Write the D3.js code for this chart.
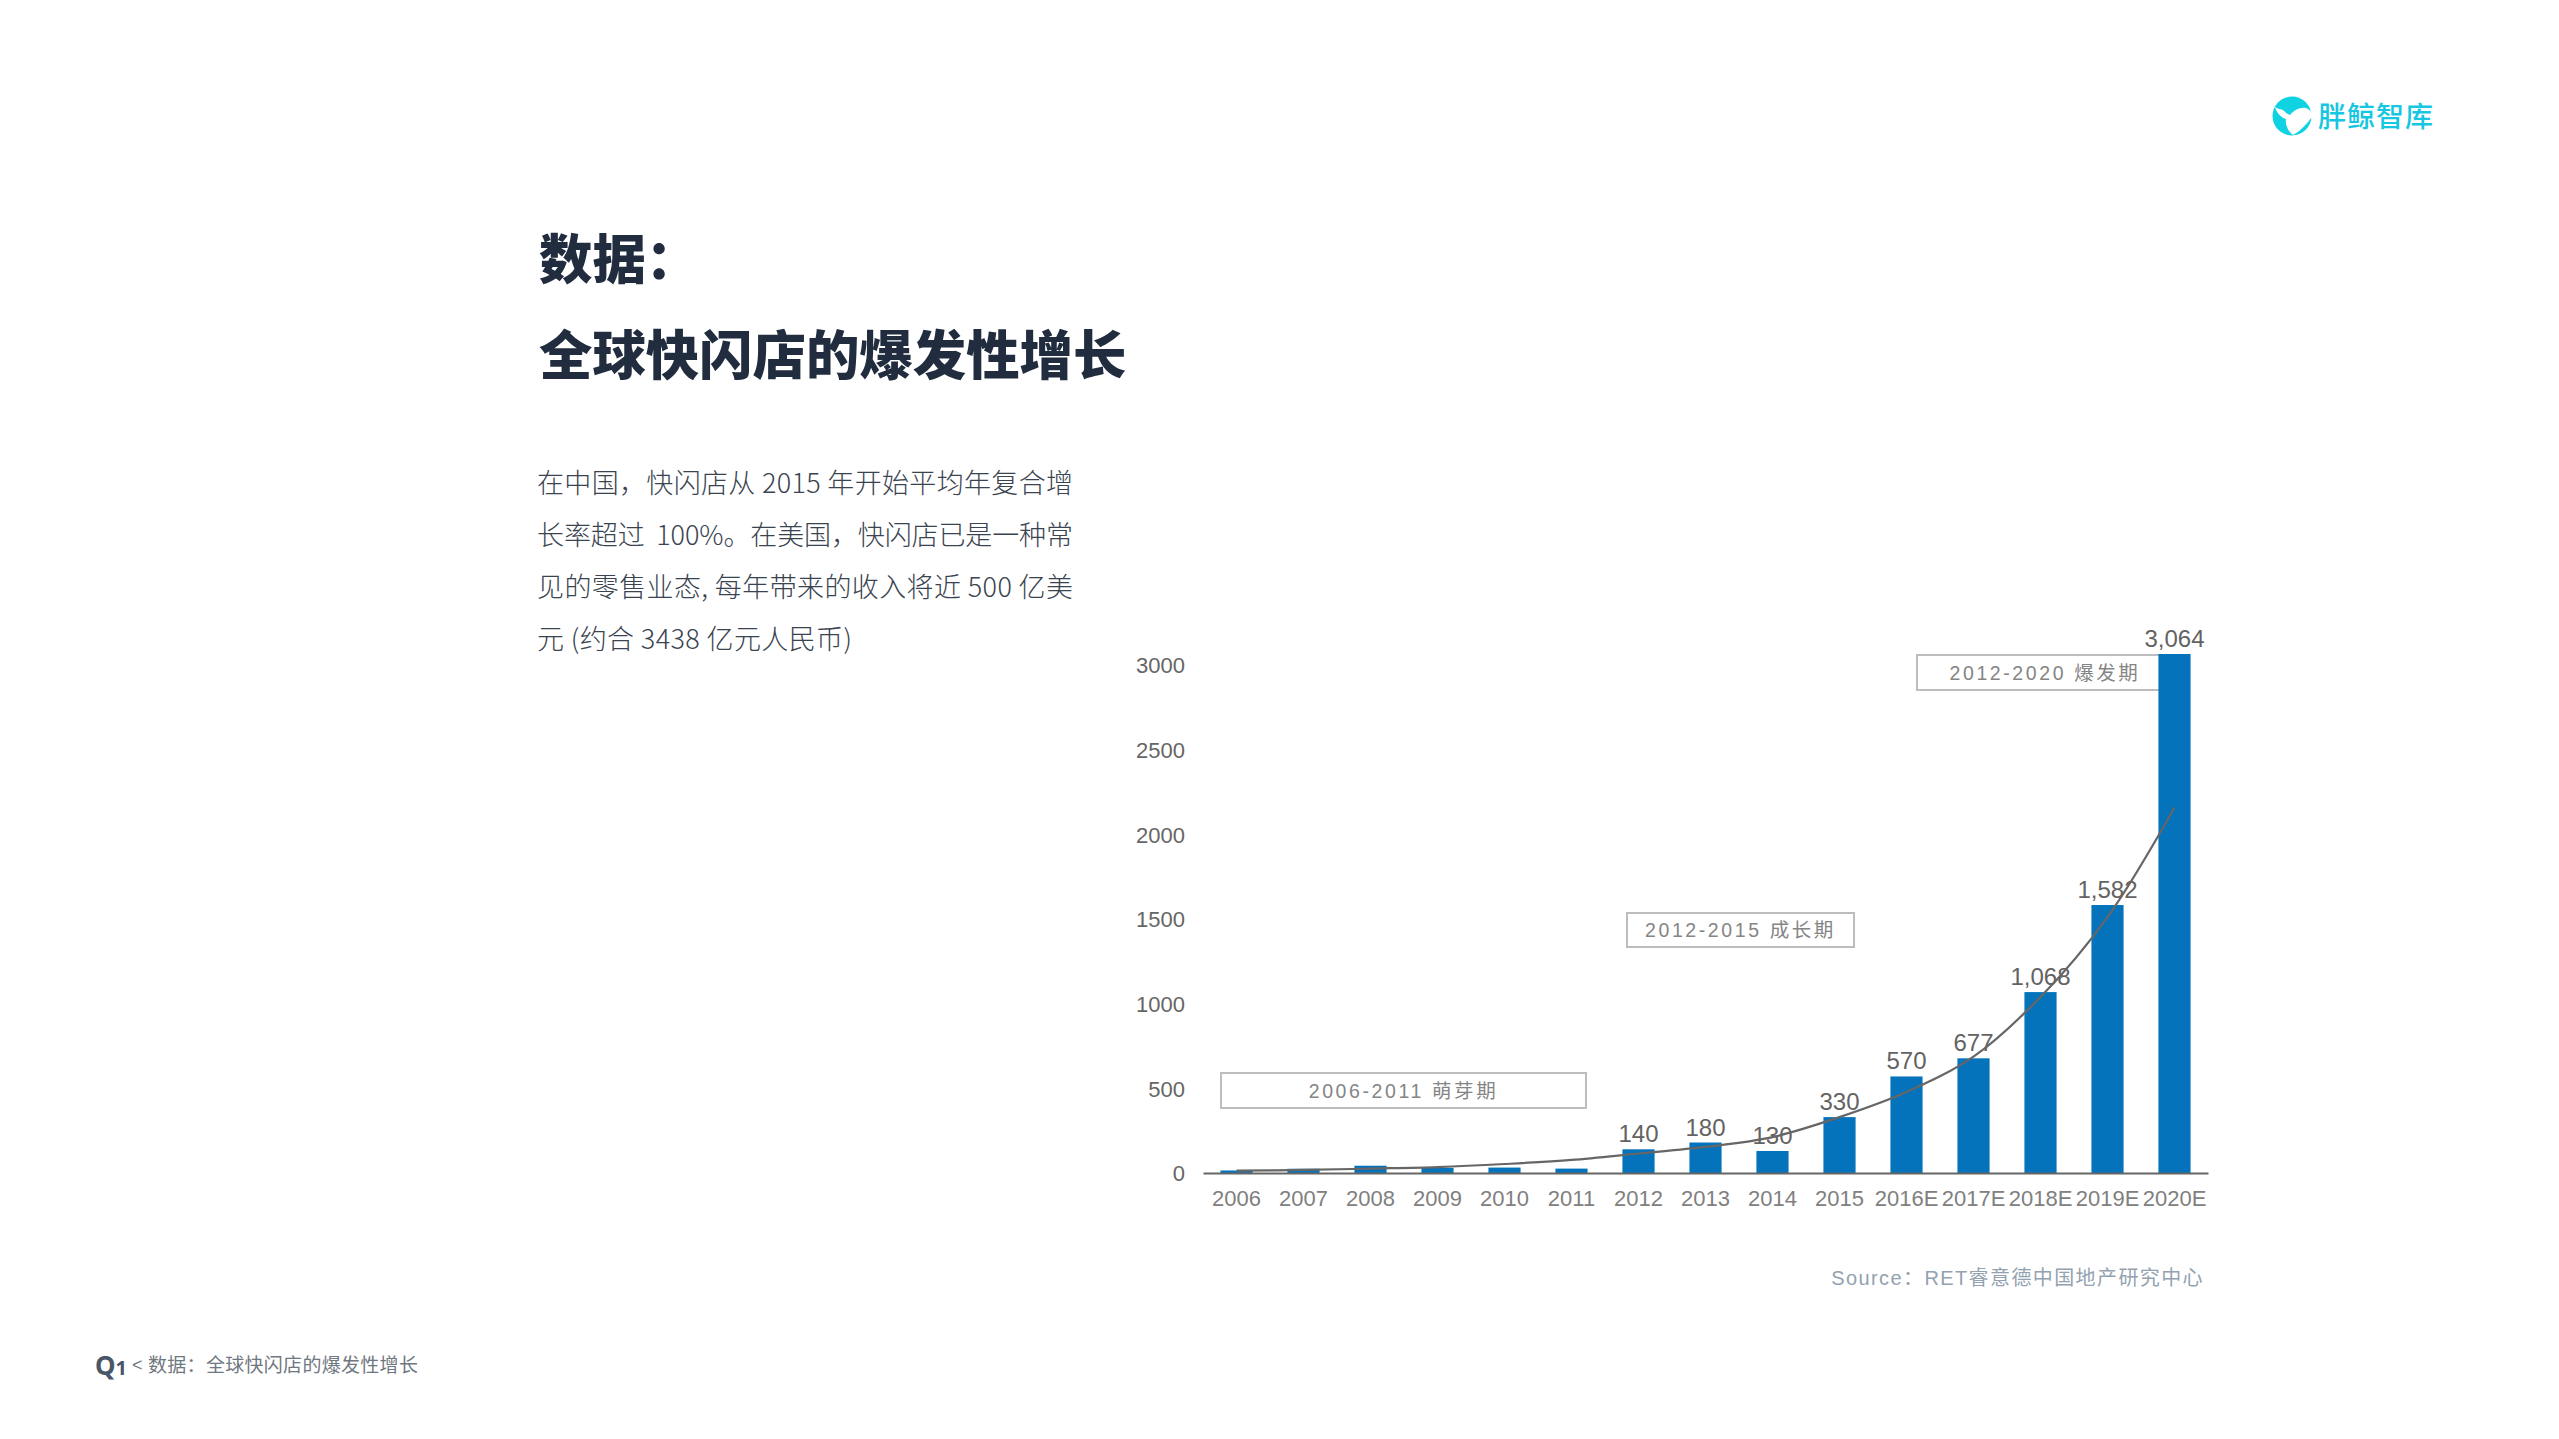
<!DOCTYPE html>
<html lang="zh"><head><meta charset="utf-8">
<script src="https://cdnjs.cloudflare.com/ajax/libs/d3/7.8.5/d3.min.js"></script>
<style>
html,body{margin:0;padding:0;background:#fff;overflow:hidden}
svg{display:block}
text{font-family:"Liberation Sans","Noto Sans CJK SC",sans-serif}
.cjk{font-family:"Noto Sans CJK SC","Noto Sans",sans-serif}
</style></head><body>
<svg id="c" width="2559" height="1439"></svg>
<script>
// ---- data ----
const years = ["2006","2007","2008","2009","2010","2011","2012","2013","2014","2015","2016E","2017E","2018E","2019E","2020E"];
const stores = [15,25,43,30,32,26,140,180,130,330,570,677,1068,1582,3064];
const shownLabels = ["","","","","","","140","180","130","330","570","677","1,068","1,582","3,064"];
const trend = [14,18,26,35,53,77,115,154,212,330,478,687,1039,1511,2158];
const yTicks = [0,500,1000,1500,2000,2500,3000];
const phaseNames = ["2006-2011 萌芽期","2012-2015 成长期","2012-2020 爆发期"];
const titleLines = ["数据：","全球快闪店的爆发性增长"];
const bodyLines = ["在中国，快闪店从 2015 年开始平均年复合增","长率超过  100%。在美国，快闪店已是一种常","见的零售业态, 每年带来的收入将近 500 亿美","元 (约合 3438 亿元人民币)"];
const sourceText = "Source：RET睿意德中国地产研究中心";
const footerText = "数据：全球快闪店的爆发性增长";
const logoText = "胖鲸智库";

// ---- layout ----
const svg = d3.select("#c");
const x = d3.scaleBand().domain(years).range([1203,2208]).paddingInner(0.52).paddingOuter(0.26);
const y = d3.scaleLinear().domain([0,3064]).range([1173,654]);
const phaseBoxes = [[1221,1073,365,35],[1627,913,227,34],[1917,655,254,35]];
const bodyWidths = [536,536,536,315];

// title and body
svg.append("g").selectAll("text").data(titleLines).join("text").attr("class","cjk")
  .attr("x",539).attr("y",(d,i)=>278.5+i*96.5).attr("font-size",53.4).attr("font-weight",900).attr("fill","#212d3f")
  .style("font-family",'"Noto Sans CJK SC"').text(d=>d);
svg.append("g").selectAll("text").data(bodyLines).join("text").attr("class","cjk")
  .attr("x",537).attr("y",(d,i)=>492.5+i*52).attr("font-size",27).attr("font-weight",300).attr("fill","#3a4350")
  .attr("textLength",(d,i)=>bodyWidths[i]).attr("lengthAdjust","spacing")
  .style("white-space","pre").style("font-family",'"Noto Sans CJK SC"').text(d=>d);

// phase boxes
const pg = svg.append("g").selectAll("g").data(phaseNames).join("g");
pg.append("rect").attr("x",(d,i)=>phaseBoxes[i][0]).attr("y",(d,i)=>phaseBoxes[i][1])
  .attr("width",(d,i)=>phaseBoxes[i][2]).attr("height",(d,i)=>phaseBoxes[i][3])
  .attr("fill","#fff").attr("stroke","#bdbdbd").attr("stroke-width",2);
pg.append("text").attr("x",(d,i)=>phaseBoxes[i][0]+phaseBoxes[i][2]/2 + (i==2?1:0))
  .attr("y",(d,i)=>phaseBoxes[i][1]+phaseBoxes[i][3]/2+7).attr("text-anchor","middle")
  .attr("font-size",19.5).attr("letter-spacing",2.6).attr("fill","#858585").text(d=>d);

// bars
svg.append("g").selectAll("rect").data(stores).join("rect")
  .attr("x",(d,i)=>x(years[i])).attr("width",x.bandwidth())
  .attr("y",d=>y(d)).attr("height",d=>y(0)-y(d)).attr("fill","#0473bb");

// value labels
svg.append("g").selectAll("text").data(stores).join("text")
  .attr("x",(d,i)=>x(years[i])+x.bandwidth()/2).attr("y",d=>y(d)-7)
  .attr("text-anchor","middle").attr("font-size",24).attr("fill","#636363")
  .text((d,i)=>shownLabels[i]);

// axes
const xAxis = svg.append("g").attr("transform","translate(0,1173)")
  .call(d3.axisBottom(x).tickSize(0).tickPadding(17));
xAxis.select(".domain").attr("stroke","#666").attr("stroke-width",2);
xAxis.selectAll("text").attr("font-size",22).attr("fill","#808080").style("font-family",'"Liberation Sans"');
const yAxis = svg.append("g").attr("transform","translate(1203,0.8)")
  .call(d3.axisLeft(y).tickValues(yTicks).tickFormat(d3.format("d")).tickSize(0).tickPadding(18));
yAxis.select(".domain").remove();
yAxis.selectAll("text").attr("font-size",22).attr("fill","#666").style("font-family",'"Liberation Sans"');

// trend curve
const line = d3.line().x((d,i)=>x(years[i])+x.bandwidth()/2).y(d=>y(d)).curve(d3.curveCatmullRom.alpha(0.5));
svg.append("path").datum(trend).attr("d",line).attr("fill","none").attr("stroke","#666").attr("stroke-width",2.2);

// source
svg.append("text").attr("x",2204).attr("y",1284.5).attr("text-anchor","end").attr("font-size",20)
  .attr("letter-spacing",1.4).attr("fill","#93a2b0").text(sourceText);

// footer
const q = svg.append("text").attr("x",95).attr("y",1374.5).attr("font-weight",700)
  .attr("fill","#4a5568").style("font-family",'"Noto Sans"');
q.append("tspan").attr("font-size",26).text("Q");
q.append("tspan").attr("font-size",20).text("1");
svg.append("text").attr("x",132).attr("y",1371).attr("font-size",18).attr("fill","#6f7780").text("<");
svg.append("text").attr("class","cjk").attr("x",148).attr("y",1372).attr("font-size",19).attr("letter-spacing",0.3)
  .attr("fill","#6f7780").style("font-family",'"Noto Sans CJK SC"').text(footerText);

// logo
const lg = svg.append("g");
lg.append("circle").attr("cx",2292).attr("cy",116).attr("r",19.5).attr("fill","#0fd3e3");
lg.append("path").attr("fill","#fff")
  .attr("d","M2275 107 C2279 110 2283 108 2286 113 L2290 115 C2294 110 2300 107 2306 108 C2311 110 2313 113 2312 117 C2306 125 2300 131 2293 135 C2288 131 2285 125 2286 119 C2282 118 2277 114 2275 107Z");
lg.append("text").attr("class","cjk").attr("x",2318).attr("y",127).attr("font-size",28).attr("letter-spacing",1).attr("font-weight",500)
  .attr("fill","#17c6e0").style("font-family",'"Noto Sans CJK SC"').text(logoText);
</script>
</body></html>
